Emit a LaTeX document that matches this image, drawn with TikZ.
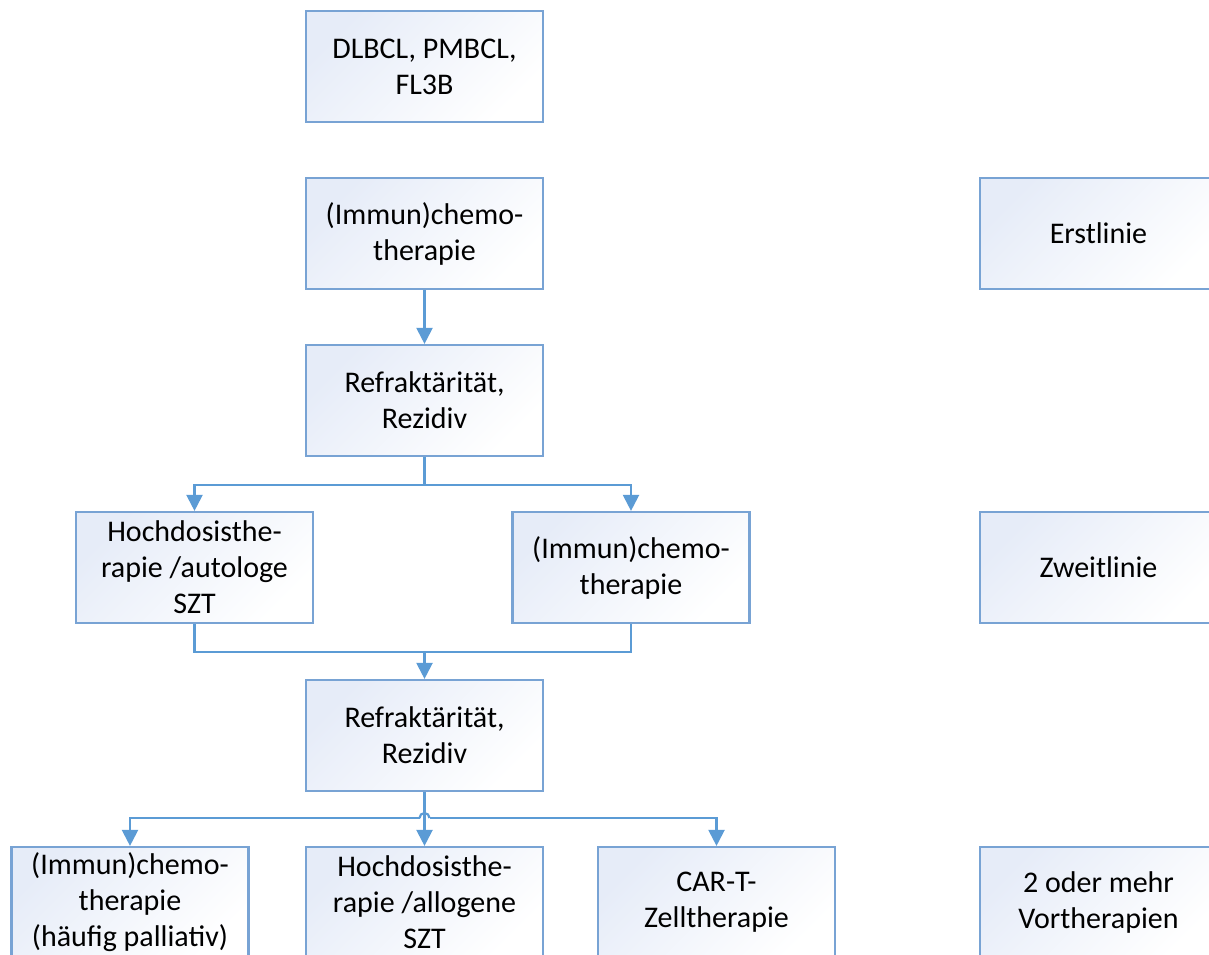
\documentclass[tikz,border=0pt]{standalone}
\usepackage{fontspec}
\setmainfont{Carlito}
\usetikzlibrary{arrows.meta}
\definecolor{linecol}{RGB}{91,155,213}
\definecolor{boxline}{RGB}{120,163,212}
\definecolor{boxfill}{RGB}{230,236,248}
\tikzset{
  box/.style={draw=boxline, line width=2.2pt, top color=boxfill, bottom color=white, shading angle=45,
    minimum width=237pt, minimum height=111pt, inner sep=0pt, align=center,
    font=\fontsize{30}{36}\selectfont, text=black},
  conn/.style={draw=linecol, line width=2.2pt},
  arr/.style={conn, -{Triangle[length=16pt,width=16pt]}}
}
\begin{document}
\begin{tikzpicture}[x=1pt,y=1pt]
\useasboundingbox (0,0) rectangle (1209,-954);
\node[box] (b1) at (424.5,-66.5) {DLBCL, PMBCL,\\FL3B};
\node[box] (b2) at (424.5,-233.5) {(Immun)chemo-\\therapie};
\node[box] (b3) at (424.5,-400.5) {Refraktärität,\\Rezidiv};
\node[box] (b4) at (194.5,-567.5) {Hochdosisthe-\\rapie /autologe\\SZT};
\node[box] (b5) at (631,-567.5) {(Immun)chemo-\\therapie};
\node[box] (b6) at (424.5,-735.5) {Refraktärität,\\Rezidiv};
\node[box] (b7) at (130,-902.5) {(Immun)chemo-\\therapie\\(häufig palliativ)};
\node[box] (b8) at (424.5,-902.5) {Hochdosisthe-\\rapie /allogene\\SZT};
\node[box] (b9) at (716.5,-902.5) {CAR-T-\\Zelltherapie};
\node[box] (r1) at (1098.5,-233.5) {Erstlinie};
\node[box] (r2) at (1098.5,-567.5) {Zweitlinie};
\node[box] (r3) at (1098.5,-902.5) {2 oder mehr\\Vortherapien};

\coordinate (j1) at (424.5,-485);
\coordinate (j2) at (424.5,-652);
\coordinate (j3) at (424.5,-818);
\coordinate (hl) at (419.5,-818);
\coordinate (hr) at (429.5,-818);

\draw[arr] (b2.south) -- (b3.north);
\draw[conn] (b3.south) -- (j1);
\draw[arr] (j1) -| (b4.north);
\draw[arr] (j1) -| (b5.north);
\draw[conn] (b4.south) |- (j2) -| (b5.south);
\draw[arr] (j2) -- (b6.north);
\draw[arr] (b6.south) -- (b8.north);
\draw[arr] (hl) -| (b7.north);
\draw[arr] (hr) -| (b9.north);
\draw[conn] (hl) arc (180:0:5);
\end{tikzpicture}
\end{document}
